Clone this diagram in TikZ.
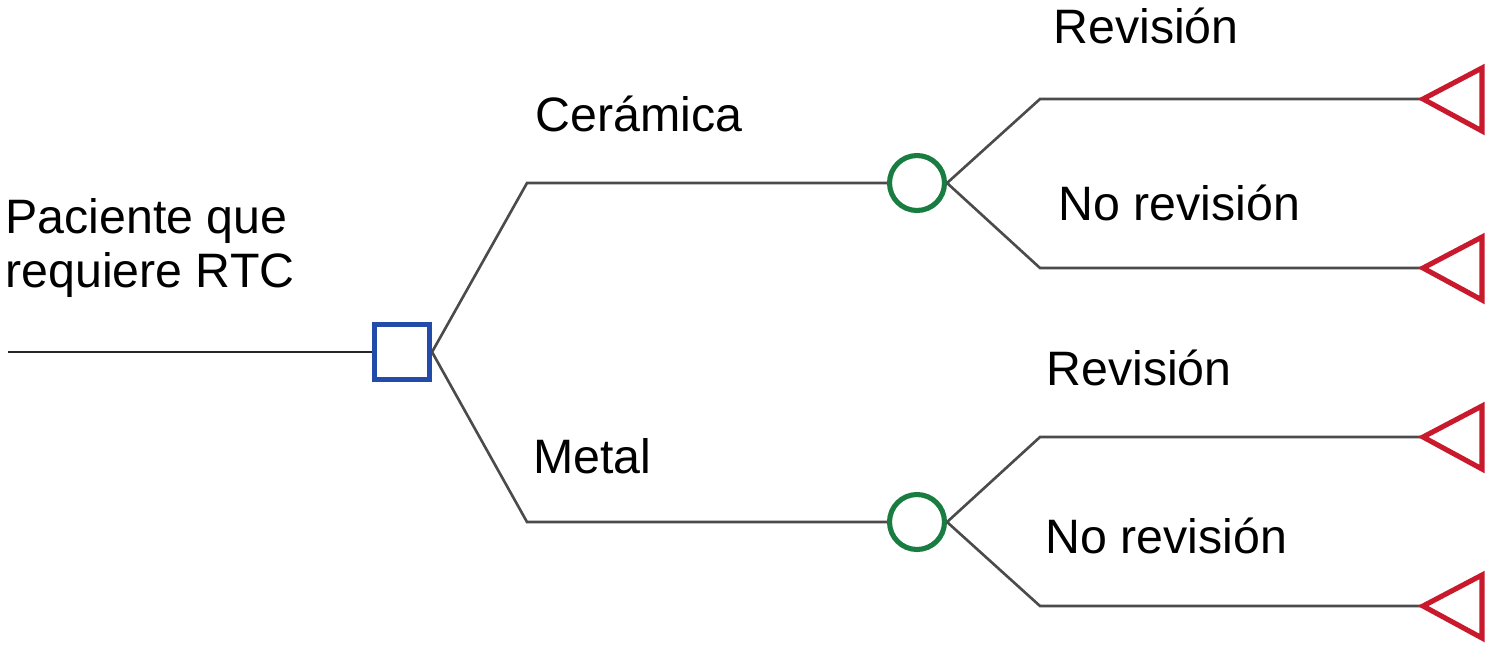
\documentclass[tikz,border=0pt]{standalone}
\usepackage{fontspec}
\setmainfont{Liberation Sans}
\usetikzlibrary{calc}
\definecolor{decblue}{RGB}{35,75,170}
\definecolor{chgreen}{RGB}{25,125,65}
\definecolor{endred}{RGB}{200,25,45}
\definecolor{branch}{RGB}{75,75,75}
\tikzset{
  decision/.style={draw=decblue,line width=2.9pt,minimum size=1.1cm,inner sep=0pt,fill=white},
  chance/.style={circle,draw=chgreen,line width=2.9pt,minimum size=1.1cm,inner sep=0pt,fill=white},
  leaf/.style={draw=endred,line width=2.9pt,line join=miter},
  edge/.style={draw=branch,line width=1.5pt},
  lbl/.style={anchor=base west,inner sep=0pt,font=\fontsize{27.5}{30.7}\selectfont}
}

\begin{document}
\begin{tikzpicture}[x=0.02cm,y=-0.02cm]
\useasboundingbox (0,0) rectangle (1493,647);
\coordinate (root) at (8,352);
\coordinate (b1) at (527,183); \coordinate (b2) at (527,522);
\coordinate (k1) at (1040,99); \coordinate (k2) at (1040,268);
\coordinate (k3) at (1040,437); \coordinate (k4) at (1040,606);
\coordinate (t1) at (1423,99); \coordinate (t2) at (1423,268);
\coordinate (t3) at (1423,437); \coordinate (t4) at (1423,606);
\node[decision] (dec) at (402,352) {};
\node[chance] (c1) at (917,183) {};
\node[chance] (c2) at (917,522) {};
% branches
\draw[edge,draw=black!85] (root) -- (dec.west);
\draw[edge] (dec.east) -- (b1) -- (c1.west);
\draw[edge] (dec.east) -- (b2) -- (c2.west);
\draw[edge] (c1.east) -- (k1) -- (t1);
\draw[edge] (c1.east) -- (k2) -- (t2);
\draw[edge] (c2.east) -- (k3) -- (t3);
\draw[edge] (c2.east) -- (k4) -- (t4);
% end nodes
\draw[leaf] (t1) -- ++(59,-31) -- ++(0,63) -- cycle;
\draw[leaf] (t2) -- ++(59,-31) -- ++(0,63) -- cycle;
\draw[leaf] (t3) -- ++(59,-31) -- ++(0,63) -- cycle;
\draw[leaf] (t4) -- ++(59,-31) -- ++(0,63) -- cycle;
% labels
\node[lbl,align=left] (pac) at (5,287) {Paciente que\\requiere RTC};
\node[lbl] (cer) at (535,131) {Cerámica};
\node[lbl] (met) at (533,473) {Metal};
\node[lbl] (rev1) at (1053,43) {Revisión};
\node[lbl] (norev1) at (1058,220) {No revisión};
\node[lbl] (rev2) at (1046,385) {Revisión};
\node[lbl] (norev2) at (1045,553) {No revisión};
\end{tikzpicture}
\end{document}
